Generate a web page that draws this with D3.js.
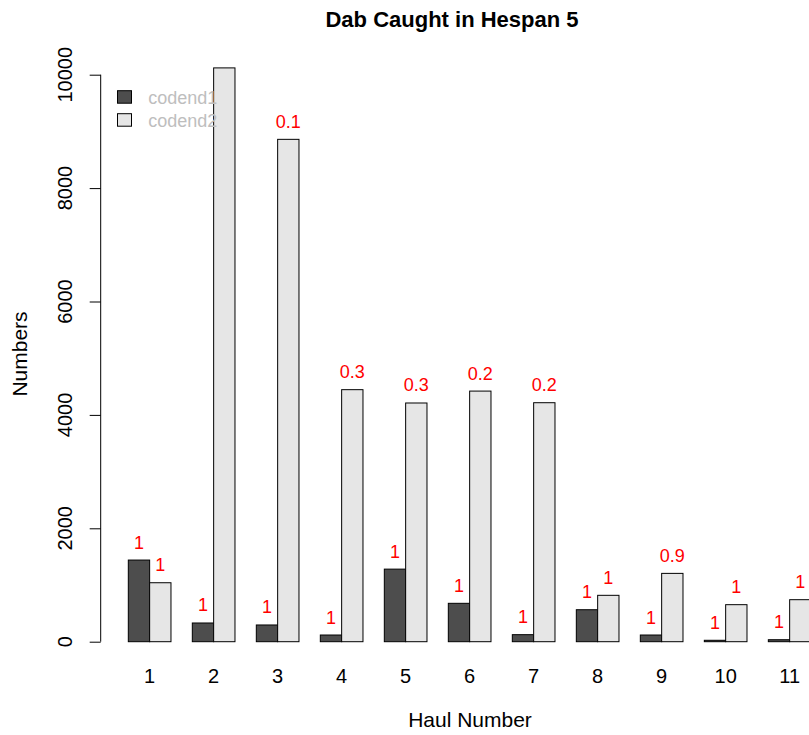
<!DOCTYPE html>
<html>
<head>
<meta charset="utf-8">
<script src="https://cdn.jsdelivr.net/npm/d3@7"></script>
<style>
  html, body { margin: 0; padding: 0; background: #fff; }
  svg { display: block; font-family: "Liberation Sans", Arial, sans-serif; }
</style>
</head>
<body>
<svg id="chart" width="809" height="735"></svg>
<script>
// ---- data ----
const hauls = ["1","2","3","4","5","6","7","8","9","10","11"];
const codend1 = [1440, 330, 295, 118, 1280, 677, 124, 564, 118, 25, 35];
const codend2 = [1040, 10120, 8860, 4445, 4210, 4420, 4215, 818, 1205, 653, 741];
const labels1 = ["1","1","1","1","1","1","1","1","1","1","1"];
const labels2 = ["1","","0.1","0.3","0.3","0.2","0.2","1","0.9","1","1"];
const seriesNames = ["codend1", "codend2"];
const yTicks = [0, 2000, 4000, 6000, 8000, 10000];

// ---- layout ----
const svg = d3.select("#chart");
const colors = ["#4d4d4d", "#e6e6e6"];

// x in bar units: each group = 1 space + 2 bars
const x = d3.scaleLinear().domain([-0.28, 34.28]).range([101, 838.3]);
const y = d3.scaleLinear().domain([0, 10000]).range([641.7, 74.7]);

const data = hauls.map((h, i) => ({
  haul: h,
  vals: [codend1[i], codend2[i]],
  labs: [labels1[i], labels2[i]],
  u0: 3 * i + 1
}));

const g = svg.append("g");

// bars
data.forEach(d => {
  d.vals.forEach((v, j) => {
    g.append("rect")
      .attr("x", x(d.u0 + j))
      .attr("y", y(v))
      .attr("width", x(d.u0 + j + 1) - x(d.u0 + j))
      .attr("height", y(0) - y(v))
      .attr("fill", colors[j])
      .attr("stroke", "#000")
      .attr("stroke-width", 1);
  });
});

// red labels
data.forEach(d => {
  d.labs.forEach((lab, j) => {
    if (!lab) return;
    g.append("text")
      .attr("x", x(d.u0 + j + 0.5))
      .attr("y", y(d.vals[j]) - 11.5)
      .attr("text-anchor", "middle")
      .attr("fill", "#ff0000")
      .attr("font-size", 18)
      .text(lab);
  });
});

// x tick labels (group names)
data.forEach(d => {
  svg.append("text")
    .attr("x", x(d.u0 + 1))
    .attr("y", 682.5)
    .attr("text-anchor", "middle")
    .attr("font-size", 20)
    .attr("fill", "#000")
    .text(d.haul);
});

// y axis
const yAxis = d3.axisLeft(y).tickValues(yTicks).tickSize(11).tickFormat("");
const ya = svg.append("g").attr("transform", "translate(100.7,0)").call(yAxis);
ya.select(".domain").attr("d", `M-0,${y(0)}V${y(10000)}`).attr("stroke", "#000");
ya.selectAll(".tick line").attr("stroke", "#000");

yTicks.forEach(t => {
  svg.append("text")
    .attr("transform", `translate(72,${y(t)}) rotate(-90)`)
    .attr("text-anchor", "middle")
    .attr("font-size", 20)
    .attr("fill", "#000")
    .text(d3.format("d")(t));
});

// axis titles
svg.append("text")
  .attr("transform", `translate(27,354) rotate(-90)`)
  .attr("text-anchor", "middle")
  .attr("font-size", 21)
  .text("Numbers");

svg.append("text")
  .attr("x", 470)
  .attr("y", 727)
  .attr("text-anchor", "middle")
  .attr("font-size", 21)
  .text("Haul Number");

// title
svg.append("text")
  .attr("x", 452)
  .attr("y", 27)
  .attr("text-anchor", "middle")
  .attr("font-size", 22)
  .attr("font-weight", "bold")
  .text("Dab Caught in Hespan 5");

// legend
const legY = [97, 120];
seriesNames.forEach((s, j) => {
  svg.append("rect")
    .attr("x", 117.5)
    .attr("y", legY[j] - 6.3)
    .attr("width", 14)
    .attr("height", 12.5)
    .attr("fill", colors[j])
    .attr("stroke", "#000")
    .attr("stroke-width", 1);
  svg.append("text")
    .attr("x", 148.3)
    .attr("y", legY[j] + 6.5)
    .attr("font-size", 18)
    .attr("fill", "#bebebe")
    .text(s);
});
</script>
</body>
</html>
